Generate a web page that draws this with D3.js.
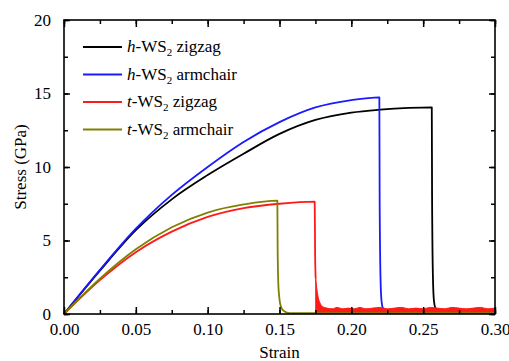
<!DOCTYPE html>
<html>
<head>
<meta charset="utf-8">
<script src="https://cdn.jsdelivr.net/npm/d3@7"></script>
<style>
  html, body { margin: 0; padding: 0; background: #fff; }
</style>
</head>
<body>
<svg width="509" height="361"></svg>
<script>
const FONT = "'Liberation Serif', 'Times New Roman', 'DejaVu Serif', serif"

// strain / stress
const hZigzagStrain = [0, 0.025, 0.05, 0.075, 0.1, 0.125, 0.15, 0.175, 0.2, 0.22, 0.24, 0.256, 0.2562, 0.2568, 0.2575, 0.2585, 0.26, 0.30]
const hZigzagStress = [0, 2.95, 5.7, 7.8, 9.45, 10.9, 12.25, 13.2, 13.7, 13.9, 14.02, 14.06, 8.0, 2.5, 0.9, 0.4, 0.2, 0.2]

const hArmchairStrain = [0, 0.025, 0.05, 0.075, 0.1, 0.125, 0.15, 0.175, 0.2, 0.2195, 0.2197, 0.2203, 0.221, 0.222, 0.224, 0.30]
const hArmchairStress = [0, 3.0, 5.8, 8.1, 10.0, 11.7, 13.05, 14.05, 14.55, 14.74, 8.0, 2.5, 0.9, 0.4, 0.2, 0.2]

const tZigzagStrain = [0, 0.025, 0.05, 0.075, 0.1, 0.125, 0.15, 0.1745, 0.1748, 0.1752]
const tZigzagStress = [0, 2.3, 4.2, 5.6, 6.6, 7.2, 7.5, 7.64, 4.0, 2.4]

// after fracture the t-WS2 zigzag curve oscillates fast: drawn as its band (low / high envelope)
const tZigzagTailStrain = [0.1752, 0.176, 0.177, 0.178, 0.179, 0.18, 0.183, 0.187, 0.19, 0.194, 0.198, 0.202, 0.206,
  0.21, 0.215, 0.22, 0.225, 0.23, 0.235, 0.24, 0.245, 0.25, 0.255, 0.26, 0.265, 0.27, 0.275, 0.28, 0.285, 0.29, 0.295, 0.30]
const tZigzagTailLow = [0.1, 0.1, 0.1, 0.1, 0.1, 0.1, 0.1, 0.1, 0.1, 0.1, 0.1, 0.1, 0.1,
  0.1, 0.1, 0.1, 0.1, 0.1, 0.1, 0.1, 0.1, 0.1, 0.1, 0.1, 0.1, 0.1, 0.1, 0.1, 0.1, 0.1, 0.1, 0.1]
const tZigzagTailHigh = [2.4, 1.7, 1.1, 0.8, 0.6, 0.5, 0.4, 0.35, 0.45, 0.35, 0.4, 0.35, 0.45,
  0.35, 0.4, 0.45, 0.35, 0.4, 0.45, 0.35, 0.4, 0.35, 0.45, 0.4, 0.35, 0.45, 0.4, 0.35, 0.4, 0.45, 0.35, 0.4]

const tArmchairStrain = [0, 0.025, 0.05, 0.075, 0.1, 0.125, 0.1485, 0.1487, 0.1492, 0.15, 0.151, 0.153, 0.157, 0.30]
const tArmchairStress = [0, 2.4, 4.4, 5.9, 6.9, 7.45, 7.71, 4.5, 2.0, 1.0, 0.5, 0.2, 0.06, 0.06]

const seriesNames = ["h|-WS|2| zigzag", "h|-WS|2| armchair", "t|-WS|2| zigzag", "t|-WS|2| armchair"]
const seriesColors = ["#000000", "#1a1aff", "#ff1a1a", "#808000"]

const xTicks = [0, 0.05, 0.1, 0.15, 0.2, 0.25, 0.3]
const yTicks = [0, 5, 10, 15, 20]

const svg = d3.select("svg").attr("font-family", FONT)
const margin = {left: 64, top: 20, right: 14, bottom: 47}
const width = +svg.attr("width"), height = +svg.attr("height")

const x = d3.scaleLinear().domain([0, 0.3]).range([margin.left, width - margin.right])
const y = d3.scaleLinear().domain([0, 20]).range([height - margin.bottom, margin.top])

const series = [
  [hZigzagStrain, hZigzagStress],
  [hArmchairStrain, hArmchairStress],
  [tZigzagStrain, tZigzagStress],
  [tArmchairStrain, tArmchairStress]
]

const line = d3.line().x(d => x(d[0])).y(d => y(d[1])).curve(d3.curveMonotoneX)
const zip = (a, b) => a.map((v, k) => [v, b[k]])

const curves = svg.append("g")
series.forEach((d, i) => {
  curves.append("path")
    .attr("fill", "none")
    .attr("stroke", seriesColors[i])
    .attr("stroke-width", 1.8)
    .attr("stroke-linejoin", "round")
    .attr("d", line(zip(d[0], d[1])))
  if (i === 2) {
    const band = d3.area()
      .x(d => x(d[0])).y0(d => y(d[1])).y1(d => y(d[2]))
      .curve(d3.curveMonotoneX)
    curves.append("path")
      .attr("fill", seriesColors[2])
      .attr("stroke", seriesColors[2])
      .attr("stroke-width", 1)
      .attr("d", band(tZigzagTailStrain.map((s, k) => [s, tZigzagTailLow[k], tZigzagTailHigh[k]])))
  }
})

// axes, ticks pointing inward on all sides
const xMinor = d3.range(0, 0.3001, 0.025)
const yMinor = d3.range(0, 20.001, 2.5)

function addAxis(axis, tx, ty) {
  const g = svg.append("g").attr("transform", `translate(${tx},${ty})`).call(axis)
  g.attr("font-family", FONT).attr("font-size", 17)
  g.select(".domain").remove()
  g.selectAll("line").attr("stroke", "#000").attr("stroke-width", 1.5)
  return g
}

addAxis(d3.axisBottom(x).tickValues(xMinor).tickSize(-4).tickFormat(""), 0, y(0))
addAxis(d3.axisTop(x).tickValues(xMinor).tickSize(-4).tickFormat(""), 0, y(20))
addAxis(d3.axisLeft(y).tickValues(yMinor).tickSize(-4).tickFormat(""), x(0), 0)
addAxis(d3.axisRight(y).tickValues(yMinor).tickSize(-4).tickFormat(""), x(0.3), 0)

const xAx = addAxis(d3.axisBottom(x).tickValues(xTicks).tickSize(-7).tickFormat(d3.format(".2f")), 0, y(0))
xAx.selectAll("text").attr("dy", null).attr("y", 21)
addAxis(d3.axisTop(x).tickValues(xTicks).tickSize(-7).tickFormat(""), 0, y(20))
addAxis(d3.axisLeft(y).tickValues(yTicks).tickSize(-6).tickFormat(d3.format("d")).tickPadding(13), x(0), 0)
addAxis(d3.axisRight(y).tickValues(yTicks).tickSize(-6).tickFormat(""), x(0.3), 0)

svg.selectAll(".tick text").attr("fill", "#000")

svg.append("rect")
  .attr("x", x(0)).attr("y", y(20))
  .attr("width", x(0.3) - x(0)).attr("height", y(0) - y(20))
  .attr("fill", "none").attr("stroke", "#000").attr("stroke-width", 1.6)

svg.append("text")
  .attr("x", (x(0) + x(0.3)) / 2).attr("y", 358)
  .attr("text-anchor", "middle").attr("font-size", 17)
  .text("Strain")

svg.append("text")
  .attr("transform", `translate(26,${(y(0) + y(20)) / 2}) rotate(-90)`)
  .attr("text-anchor", "middle").attr("font-size", 17)
  .text("Stress (GPa)")

// legend
const legend = svg.append("g")
seriesNames.forEach((name, i) => {
  const ly = 47 + i * 27.5
  legend.append("line")
    .attr("x1", 83).attr("x2", 122).attr("y1", ly).attr("y2", ly)
    .attr("stroke", seriesColors[i]).attr("stroke-width", 1.8)
  const parts = name.split("|")
  const t = legend.append("text").attr("x", 127).attr("y", ly + 5).attr("font-size", 17)
  t.append("tspan").attr("font-style", "italic").text(parts[0])
  t.append("tspan").text(parts[1])
  t.append("tspan").attr("font-size", 11).attr("dy", 4).text(parts[2])
  t.append("tspan").attr("dy", -4).text(parts[3])
})
</script>
</body>
</html>
